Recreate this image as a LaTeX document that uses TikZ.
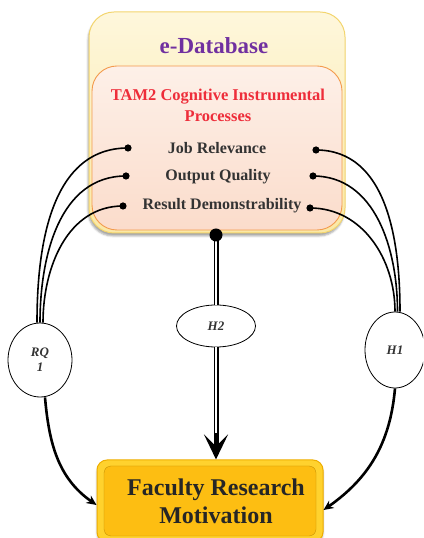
\documentclass[tikz,border=0pt]{standalone}
\usepackage{fontspec}
\setmainfont{Liberation Serif}
\usetikzlibrary{arrows.meta,shapes.geometric,shadows.blur}
\definecolor{dbpurple}{HTML}{7030A0}
\definecolor{tamred}{HTML}{EE2D3A}
\definecolor{itemgray}{HTML}{333333}
\definecolor{dbtop}{HTML}{FEF7DC}
\definecolor{dbbottom}{HTML}{FAE8A6}
\definecolor{dbdraw}{HTML}{F3D56E}
\definecolor{tamtop}{HTML}{FDF0E8}
\definecolor{tambottom}{HTML}{FBDCCB}
\definecolor{tamdraw}{HTML}{F39A4C}
\definecolor{frmfill}{HTML}{FDBE12}
\definecolor{frmrim}{HTML}{FFD22E}
\definecolor{frmdraw}{HTML}{EFAE00}
\tikzset{
	% ------- every something
	every node/.style={
		font=\bfseries,
	},
	% ------- custom
	database box/.style={
		rectangle, rounded corners=25pt,
		minimum width=256pt, minimum height=221pt,
		top color=dbtop, bottom color=dbbottom, draw=dbdraw, line width=1pt,
		blur shadow={shadow xshift=-1pt, shadow yshift=-3pt, shadow opacity=35},
	},
	database label/.style={
		font=\fontsize{23}{27}\selectfont\bfseries, text=dbpurple,
	},
	tam box/.style={
		rectangle, rounded corners=25pt,
		minimum width=250pt, minimum height=164pt,
		top color=tamtop, bottom color=tambottom, draw=tamdraw, line width=0.9pt,
	},
	tam label/.style={
		font=\fontsize{16.5}{21}\selectfont\bfseries, text=tamred, align=center,
	},
	item/.style={
		font=\fontsize{16}{19}\selectfont\bfseries, text=itemgray, inner sep=1pt,
	},
	hypo/.style={
		ellipse, draw, line width=0.8pt, fill=white, inner sep=0pt,
		font=\fontsize{13}{15}\selectfont\bfseries\itshape, text=itemgray, align=center,
	},
	frm box/.style={
		rectangle, rounded corners=10pt,
		minimum width=226pt, minimum height=82pt,
		fill=frmrim, draw=frmdraw, line width=1pt,
		blur shadow={shadow xshift=0pt, shadow yshift=-2pt, shadow opacity=30},
	},
	frm panel/.style={
		rectangle, rounded corners=7pt,
		minimum width=212pt, minimum height=70pt,
		fill=frmfill, draw=frmdraw!80!black, line width=0.3pt,
	},
	frm label/.style={
		font=\fontsize{24}{28}\selectfont\bfseries, text=black!85, align=center,
	},
	link/.style={
		line width=1.6pt,
	},
	result arrow/.style={
		line width=2.6pt,
		-{Stealth[length=10pt, width=9pt]},
	},
	stem/.style={
		line width=5pt,
		postaction={draw=white, line width=1.8pt},
	},
	stem arrow/.style={
		line width=5pt,
		-{Stealth[length=25pt, width=24pt, inset=12pt]},
		postaction={draw=white, line width=1.8pt, -, shorten >=26pt},
	},
}

\begin{document}
\begin{tikzpicture}[x=1pt,y=1pt]

% parameters %{{{1

	\def\W{423}
	\def\H{538}
	\def\dotr{3.6}

% frame %{{{1

	\useasboundingbox (0,0) rectangle (\W,\H);
	\clip (0,0) rectangle (\W,\H);

% e-Database and TAM2 boxes %{{{1

	\node[database box] (DB) at (217,415.5) {};
	\node[database label] (DBL) at (214,492) {e-Database};

	\node[tam box] (TAM) at (217,390) {};
	\node[tam label] (TAML) at (218,432.5) {TAM2 Cognitive Instrumental\\Processes};

	\node[item] (JR) at (217,390) {Job Relevance};
	\node[item] (OQ) at (218,361) {Output Quality};
	\node[item] (RD) at (222,332) {Result Demonstrability};

% outcome box %{{{1

	\node[frm box] (FRM) at (210,37) {};
	\node[frm panel] at (210,37) {};
	\node[frm label] (FRML) at (216,37) {Faculty Research\\Motivation};

% hypotheses %{{{1

	\node[hypo, minimum width=64pt, minimum height=74pt] (RQ) at (40,178) {RQ\\1};
	\node[hypo, minimum width=79pt, minimum height=42pt] (H2) at (216,212) {H2};
	\node[hypo, minimum width=60pt, minimum height=76pt] (H1) at (395,188) {H1};

% coordinates, dots %{{{1

	\coordinate (JRl) at (128,390);
	\coordinate (OQl) at (126,362);
	\coordinate (RDl) at (123,332);

	\coordinate (JRr) at (316,388);
	\coordinate (OQr) at (313,362);
	\coordinate (RDr) at (310,330);

	\coordinate (hub) at (216,303);

% links to RQ1 and H1 %{{{1

	\draw[link] (JRl) to[out=180, in=90] ([xshift=-3pt]RQ.north);
	\draw[link] (OQl) to[out=180, in=90] (RQ.north);
	\draw[link] (RDl) to[out=180, in=90] ([xshift=3pt]RQ.north);

	\draw[link] (JRr) to[out=0, in=90] ([xshift=5pt]H1.north);
	\draw[link] (OQr) to[out=0, in=90] ([xshift=2.5pt]H1.north);
	\draw[link] (RDr) to[out=0, in=90] (H1.north);

	\foreach \p in {JRl,OQl,RDl,JRr,OQr,RDr}
		\fill (\p) circle (\dotr);

% H2 stem %{{{1

	\draw[stem] (hub) -- (H2.north);
	\draw[stem arrow] (H2.south) -- (FRM.north -| H2.south);
	\fill (hub) circle (6.5);

% arrows to outcome %{{{1

	\draw[result arrow] ([xshift=5pt]RQ.south) to[out=-85, in=145] ([yshift=-4pt]FRM.west);
	\draw[result arrow] (H1.south) to[out=-95, in=35] ([yshift=-9pt]FRM.east);

% closing %{{{1

\end{tikzpicture}
\end{document}
